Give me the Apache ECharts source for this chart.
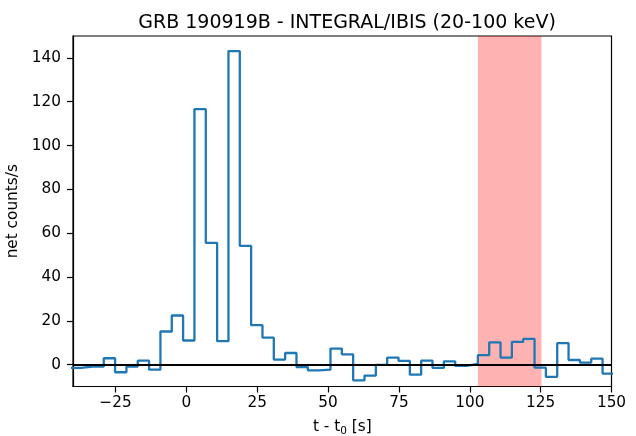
<!DOCTYPE html>
<html>
<head>
<meta charset="utf-8">
<script src="https://cdn.jsdelivr.net/npm/echarts@6/dist/echarts.min.js"></script>
<style>
html,body{margin:0;padding:0;background:#fff;}
#chart{width:636px;height:436px;}
</style>
</head>
<body>
<div id="chart"></div>
<script>
// Bin left edges (s), last entry is the right edge of the final bin
const binEdges = [-41.15, -37.15, -33.15, -29.15, -25.15, -21.15, -17.15, -13.15, -9.15, -5.15,
  -1.15, 2.85, 6.85, 10.85, 14.85, 18.85, 22.85, 26.85, 30.85, 34.85,
  38.85, 42.85, 46.85, 50.85, 54.85, 58.85, 62.85, 66.85, 70.85, 74.85,
  78.85, 82.85, 86.85, 90.85, 94.85, 98.85, 102.85, 106.85, 110.85, 114.85,
  118.85, 122.85, 126.85, 130.85, 134.85, 138.85, 142.85, 146.85, 150.85];
// Net count rate in each bin
const netRate = [-1.5, -0.9, -0.9, 2.9, -3.5, -0.9, 1.8, -2.3, 15.1, 22.4,
  11.0, 116.6, 55.6, 10.7, 143.1, 54.2, 18.0, 12.3, 2.3, 5.3,
  -1.1, -2.6, -2.3, 7.3, 4.7, -7.2, -5.0, -0.1, 3.2, 1.7,
  -4.6, 1.8, -1.5, 1.5, -0.6, 0.3, 4.3, 10.1, 3.2, 10.4,
  11.7, -1.4, -5.6, 9.8, 2.1, 0.9, 2.7, -4.1];
const shadedInterval = [102.85, 125.3];
const xTicks = [-25, 0, 25, 50, 75, 100, 125, 150];
const yTicks = [0, 20, 40, 60, 80, 100, 120, 140];
const xRange = [-40, 150];
const yRange = [-10, 150];
const titleText = 'GRB 190919B - INTEGRAL/IBIS (20-100 keV)';

const stepData = binEdges.map((t, i) => [t, i < netRate.length ? netRate[i] : netRate[netRate.length - 1]]);

const font = 'DejaVu Sans';
const fs = 15.3;
const chart = echarts.init(document.getElementById('chart'), null, {renderer: 'canvas'});
chart.setOption({
  animation: false,
  backgroundColor: '#ffffff',
  title: {
    text: titleText,
    left: 342, textAlign: 'center', top: 9,
    textStyle: {fontFamily: font, fontSize: 19, fontWeight: 'normal', color: '#000'}
  },
  grid: {left: 73, right: 24.5, top: 36, bottom: 49.5, containLabel: false, outerBoundsMode: 'none',
    show: true, borderColor: '#000', borderWidth: 1.2, backgroundColor: 'transparent'},
  xAxis: {
    type: 'value', min: xRange[0], max: xRange[1],
    name: 't - t{sub|0} [s]', nameLocation: 'middle', nameGap: 31,
    nameTextStyle: {fontFamily: font, fontSize: fs, color: '#000',
      rich: {sub: {fontFamily: font, fontSize: 10.5, color: '#000', verticalAlign: 'bottom', padding: [8, 0, 0, 0]}}},
    axisLine: {show: true, onZero: false, lineStyle: {color: '#000', width: 1.2}},
    axisTick: {show: true, length: 6, customValues: xTicks, lineStyle: {color: '#000', width: 1.2}},
    axisLabel: {customValues: xTicks, margin: 9, fontFamily: font, fontSize: fs, color: '#000',
      formatter: v => String(v).replace('-', '\u2212')},
    splitLine: {show: false}
  },
  yAxis: {
    type: 'value', min: yRange[0], max: yRange[1],
    name: 'net counts/s', nameLocation: 'middle', nameGap: 43, nameRotate: 90,
    nameTextStyle: {fontFamily: font, fontSize: fs, color: '#000'},
    axisLine: {show: true, onZero: false, lineStyle: {color: '#000', width: 1.2}},
    axisTick: {show: true, length: 6, customValues: yTicks, lineStyle: {color: '#000', width: 1.2}},
    axisLabel: {customValues: yTicks, margin: 12, fontFamily: font, fontSize: fs, color: '#000'},
    splitLine: {show: false}
  },
  series: [{
    type: 'line',
    step: 'end',
    data: stepData,
    symbol: 'none',
    clip: true,
    lineStyle: {color: '#1f77b4', width: 2.3},
    markArea: {
      silent: true,
      itemStyle: {color: 'rgba(255,0,0,0.3)'},
      data: [[{xAxis: shadedInterval[0]}, {xAxis: shadedInterval[1]}]]
    },
    markLine: {
      silent: true, symbol: 'none', label: {show: false},
      lineStyle: {color: '#000', width: 2.2, type: 'solid'},
      data: [{yAxis: 0}]
    }
  }]
});
</script>
</body>
</html>
